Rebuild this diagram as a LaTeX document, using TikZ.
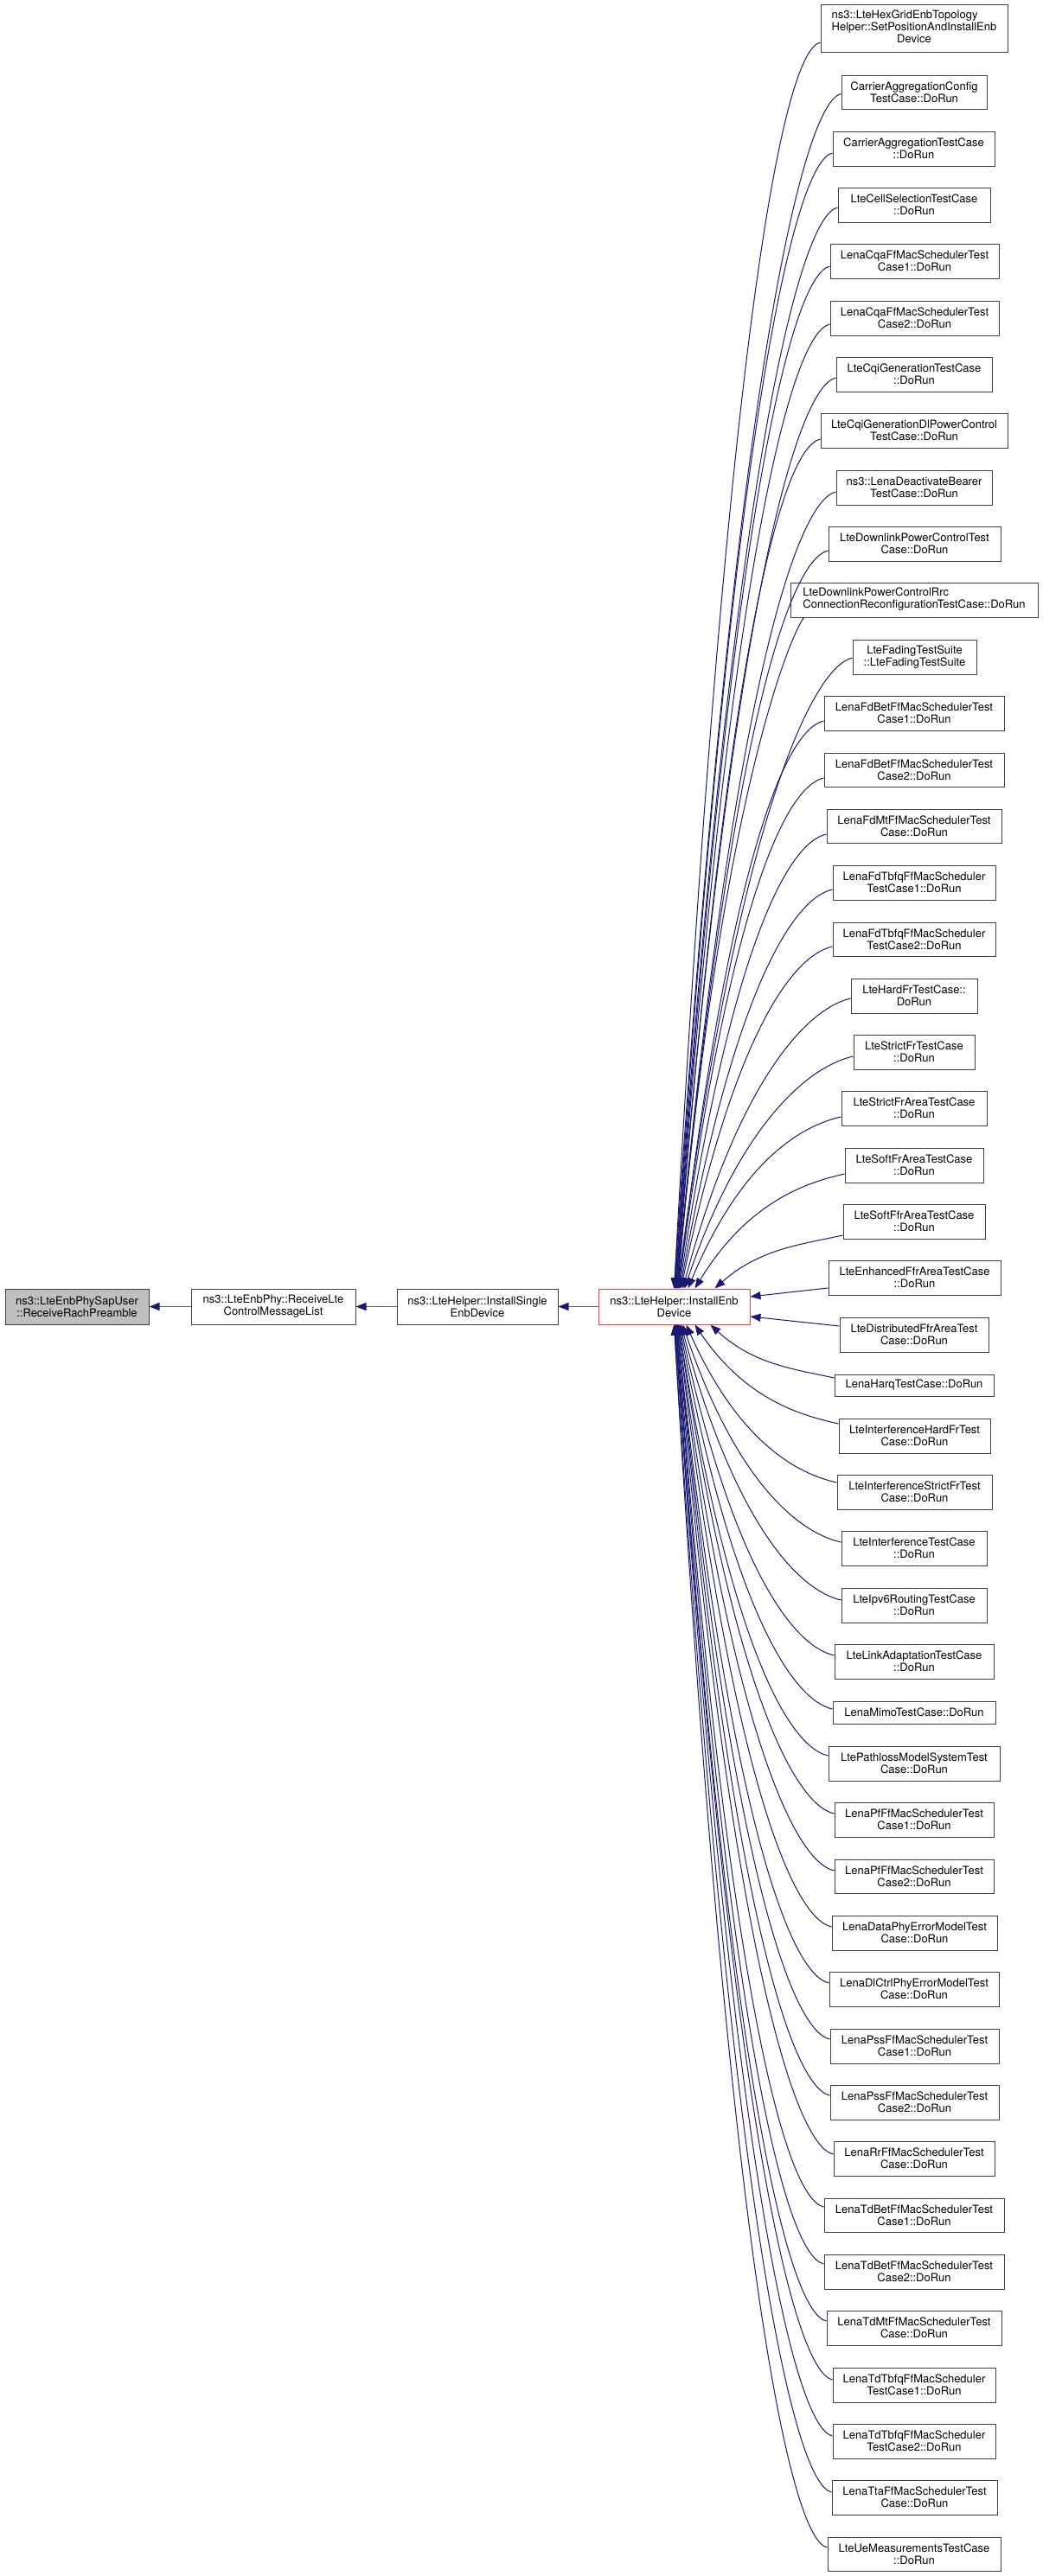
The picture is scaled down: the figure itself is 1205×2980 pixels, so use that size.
\documentclass[tikz,border=0pt]{standalone}
\usepackage{fontspec}
\setmainfont{TeX Gyre Heros}
\usetikzlibrary{arrows.meta,calc}
\definecolor{edgeblue}{HTML}{191970}
\definecolor{hedgeblue}{HTML}{5A5A96}
\definecolor{nodegray}{HTML}{BFBFBF}
\definecolor{nodered}{HTML}{FF3F3F}
\definecolor{nodeborder}{HTML}{404040}
\newcommand\mybox[6][]{%
  \pgfmathsetmacro\bw{#4-#3}\pgfmathsetmacro\bh{#6-#5}%
  \node[box,#1,minimum width=\bw pt,minimum height=\bh pt] (#2) at ({(#3+#4)/2},{(#5+#6)/2})}
\newcommand\topedge[3]{\draw[edge] let \p1=([yshift=#2pt]#1.west), \p2=([xshift=#3pt]D.north) in
  (\p1) .. controls ($(\p1)+(-45pt,-10pt)$) and ($(\p2)+({0.35*(\x1-\x2)},{0.75*(\y1-\y2)})$) .. (\p2);}
\newcommand\botedge[3]{\draw[edge] let \p1=([yshift=#2pt]#1.west), \p2=([xshift=#3pt]D.south) in
  (\p1) .. controls ($(\p1)+(-45pt,10pt)$) and ($(\p2)+({0.35*(\x1-\x2)},{0.75*(\y1-\y2)})$) .. (\p2);}
\begin{document}
\begin{tikzpicture}[x=1pt,y=-1pt,
  box/.style={draw=nodeborder,line width=1pt,fill=white,inner sep=0pt,align=center,font=\fontsize{13}{14}\selectfont},
  edge/.style={draw=edgeblue,line width=1pt,-{Triangle[length=12pt,width=9pt]}},
  hedge/.style={draw=hedgeblue,line width=1.5pt,-{Triangle[length=12pt,width=9pt,color=edgeblue]}}]
\useasboundingbox (0,0) rectangle (1205,2980);
\fill[white] (0,0) rectangle (1205,2980);
% left chain
\mybox[fill=nodegray]{A}{6}{172}{1491}{1532}{ns3::LteEnbPhySapUser\\::ReceiveRachPreamble};
\mybox{B}{221}{411}{1491}{1532}{ns3::LteEnbPhy::ReceiveLte\\ControlMessageList};
\mybox{C}{459}{645}{1491}{1532}{ns3::LteHelper::InstallSingle\\EnbDevice};
\mybox[draw=nodered]{D}{692}{867}{1491}{1532}{ns3::LteHelper::InstallEnb\\Device};
% right column
\mybox{b1}{949}{1165}{5}{60}{\begin{tabular}{@{}l@{}}ns3::LteHexGridEnbTopology\\Helper::SetPositionAndInstallEnb\\\multicolumn{1}{@{}c@{}}{Device}\end{tabular}};
\mybox{b2}{973}{1141}{87}{126}{CarrierAggregationConfig\\TestCase::DoRun};
\mybox{b3}{963}{1150}{152}{192}{CarrierAggregationTestCase\\::DoRun};
\mybox{b4}{969}{1145}{217}{257}{LteCellSelectionTestCase\\::DoRun};
\mybox{b5}{960}{1155}{282}{322}{LenaCqaFfMacSchedulerTest\\Case1::DoRun};
\mybox{b6}{960}{1155}{348}{388}{LenaCqaFfMacSchedulerTest\\Case2::DoRun};
\mybox{b7}{967}{1147}{413}{453}{LteCqiGenerationTestCase\\::DoRun};
\mybox{b8}{949}{1165}{478}{518}{LteCqiGenerationDlPowerControl\\TestCase::DoRun};
\mybox{b9}{967}{1147}{544}{584}{ns3::LenaDeactivateBearer\\TestCase::DoRun};
\mybox{b10}{958}{1157}{609}{649}{LteDownlinkPowerControlTest\\Case::DoRun};
\mybox{b11}{914}{1200}{674}{714}{\begin{tabular}{@{}l@{}}LteDownlinkPowerControlRrc\\ConnectionReconfigurationTestCase::DoRun\end{tabular}};
\mybox{b12}{986}{1129}{740}{780}{LteFadingTestSuite\\::LteFadingTestSuite};
\mybox{b13}{953}{1161}{805}{845}{LenaFdBetFfMacSchedulerTest\\Case1::DoRun};
\mybox{b14}{953}{1161}{871}{910}{LenaFdBetFfMacSchedulerTest\\Case2::DoRun};
\mybox{b15}{956}{1158}{936}{975}{LenaFdMtFfMacSchedulerTest\\Case::DoRun};
\mybox{b16}{963}{1151}{1001}{1041}{LenaFdTbfqFfMacScheduler\\TestCase1::DoRun};
\mybox{b17}{963}{1151}{1067}{1106}{LenaFdTbfqFfMacScheduler\\TestCase2::DoRun};
\mybox{b18}{984}{1130}{1132}{1172}{LteHardFrTestCase::\\DoRun};
\mybox{b19}{987}{1127}{1197}{1237}{LteStrictFrTestCase\\::DoRun};
\mybox{b20}{973}{1141}{1262}{1302}{LteStrictFrAreaTestCase\\::DoRun};
\mybox{b21}{977}{1137}{1328}{1368}{LteSoftFrAreaTestCase\\::DoRun};
\mybox{b22}{975}{1139}{1393}{1433}{LteSoftFfrAreaTestCase\\::DoRun};
\mybox{b23}{958}{1157}{1458}{1498}{LteEnhancedFfrAreaTestCase\\::DoRun};
\mybox{b24}{971}{1143}{1524}{1564}{LteDistributedFfrAreaTest\\Case::DoRun};
\mybox{b25}{965}{1149}{1590}{1615}{LenaHarqTestCase::DoRun};
\mybox{b26}{970}{1145}{1641}{1681}{LteInterferenceHardFrTest\\Case::DoRun};
\mybox{b27}{968}{1147}{1706}{1746}{LteInterferenceStrictFrTest\\Case::DoRun};
\mybox{b28}{973}{1141}{1771}{1811}{LteInterferenceTestCase\\::DoRun};
\mybox{b29}{973}{1141}{1837}{1877}{LteIpv6RoutingTestCase\\::DoRun};
\mybox{b30}{965}{1149}{1902}{1942}{LteLinkAdaptationTestCase\\::DoRun};
\mybox{b31}{963}{1151}{1968}{1994}{LenaMimoTestCase::DoRun};
\mybox{b32}{958}{1156}{2020}{2060}{LtePathlossModelSystemTest\\Case::DoRun};
\mybox{b33}{965}{1149}{2085}{2125}{LenaPfFfMacSchedulerTest\\Case1::DoRun};
\mybox{b34}{965}{1149}{2151}{2190}{LenaPfFfMacSchedulerTest\\Case2::DoRun};
\mybox{b35}{962}{1153}{2216}{2256}{LenaDataPhyErrorModelTest\\Case::DoRun};
\mybox{b36}{959}{1155}{2281}{2321}{LenaDlCtrlPhyErrorModelTest\\Case::DoRun};
\mybox{b37}{960}{1155}{2347}{2387}{LenaPssFfMacSchedulerTest\\Case1::DoRun};
\mybox{b38}{960}{1155}{2412}{2452}{LenaPssFfMacSchedulerTest\\Case2::DoRun};
\mybox{b39}{964}{1150}{2477}{2517}{LenaRrFfMacSchedulerTest\\Case::DoRun};
\mybox{b40}{953}{1161}{2543}{2582}{LenaTdBetFfMacSchedulerTest\\Case1::DoRun};
\mybox{b41}{953}{1161}{2608}{2648}{LenaTdBetFfMacSchedulerTest\\Case2::DoRun};
\mybox{b42}{956}{1158}{2673}{2713}{LenaTdMtFfMacSchedulerTest\\Case::DoRun};
\mybox{b43}{963}{1151}{2739}{2779}{LenaTdTbfqFfMacScheduler\\TestCase1::DoRun};
\mybox{b44}{963}{1151}{2804}{2844}{LenaTdTbfqFfMacScheduler\\TestCase2::DoRun};
\mybox{b45}{962}{1153}{2869}{2909}{LenaTtaFfMacSchedulerTest\\Case::DoRun};
\mybox{b46}{957}{1157}{2935}{2974}{LteUeMeasurementsTestCase\\::DoRun};
% left chain edges
\draw[hedge] (B.west) -- (A.east);
\draw[hedge] (C.west) -- (B.east);
\draw[hedge] (D.west) -- (C.east);
% top fan
\topedge{b1}{-16.5}{0}
\topedge{b2}{-2}{0}
\topedge{b3}{-5}{1}
\topedge{b4}{-3}{1}
\topedge{b5}{-6}{2}
\topedge{b6}{-7}{2}
\topedge{b7}{-4}{2}
\topedge{b8}{-10}{3}
\topedge{b9}{-5}{3}
\topedge{b10}{-8}{3}
\draw[edge] let \p1=([xshift=16pt]b11.south west), \p2=([xshift=4pt]D.north) in
  (\p1) .. controls ($(\p1)+(-12pt,-14pt)$) and ($(\p2)+({0.35*(\x1-\x2)},{0.75*(\y1-\y2)})$) .. (\p2);
\topedge{b12}{-1}{4}
\topedge{b13}{-9}{5}
\topedge{b14}{-9.5}{5}
\topedge{b15}{-9.5}{6}
\topedge{b16}{-8}{7}
\topedge{b17}{-8.5}{8}
\topedge{b18}{-3}{10}
\topedge{b19}{-5}{12}
\topedge{b20}{-10}{16}
\topedge{b21}{-10}{24}
\topedge{b22}{-16}{47}
% side edges
\draw[edge] ([yshift=-12pt]b23.west) -- ([yshift=11.5pt]D.east);
\draw[edge] ([yshift=10pt]b24.west) -- ([yshift=-11.5pt]D.east);
% bottom fan
\botedge{b25}{8.5}{42}
\botedge{b26}{14}{24}
\botedge{b27}{11}{14}
\botedge{b28}{7}{10}
\botedge{b29}{6}{8}
\botedge{b30}{7}{7}
\botedge{b31}{4}{6}
\botedge{b32}{9}{5}
\botedge{b33}{7}{5}
\botedge{b34}{6.5}{4}
\botedge{b35}{7}{4}
\botedge{b36}{7}{3}
\botedge{b37}{8}{3}
\botedge{b38}{8}{3}
\botedge{b39}{5}{2}
\botedge{b40}{9.5}{2}
\botedge{b41}{9}{2}
\botedge{b42}{8}{1}
\botedge{b43}{6}{1}
\botedge{b44}{6}{1}
\botedge{b45}{6}{0}
\botedge{b46}{7.5}{0}
\end{tikzpicture}
\end{document}
